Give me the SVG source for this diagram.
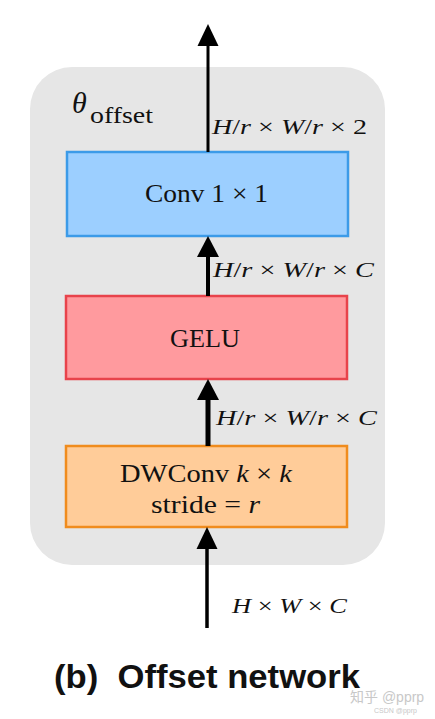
<svg xmlns="http://www.w3.org/2000/svg" width="435" height="719" viewBox="0 0 435 719">
<defs>
<style>
.math{font-family:"Liberation Serif","DejaVu Serif",serif;font-size:21px;fill:#111}
.it{font-style:italic}
.box{font-family:"Liberation Serif","DejaVu Serif",serif;font-size:25px;fill:#111}
.cap{font-family:"Liberation Sans",Arial,sans-serif;font-size:33px;font-weight:bold;fill:#111}
.wm{font-family:"Liberation Sans","Noto Sans CJK SC",sans-serif;fill:#c8c8c8}
.edge{stroke:#000;fill:none}
</style>
</defs>
<rect width="435" height="719" fill="#fff"/>
<g id="container">
<rect x="30" y="67" width="355" height="498" rx="42" ry="42" fill="#e6e6e6"/>
<text x="72" y="113" class="box it" style="font-size:30px">θ</text>
<text x="90" y="123" class="box" style="font-size:23px" textLength="63" lengthAdjust="spacingAndGlyphs">offset</text>
</g>
<g id="node-conv">
<rect x="67" y="152" width="281" height="84" fill="#9ccfff" stroke="#3c9be8" stroke-width="2.5"/>
<text x="145" y="202" class="box" textLength="123" lengthAdjust="spacingAndGlyphs">Conv 1 × 1</text>
</g>
<g id="node-gelu">
<rect x="66" y="296" width="281" height="83" fill="#ff9a9e" stroke="#e8434b" stroke-width="2.5"/>
<text x="170" y="347" class="box" textLength="70" lengthAdjust="spacingAndGlyphs">GELU</text>
</g>
<g id="node-dwconv">
<rect x="66" y="446" width="281" height="81" fill="#ffcc99" stroke="#f08c1e" stroke-width="2.5"/>
<text x="120" y="482" class="box" textLength="172" lengthAdjust="spacingAndGlyphs">DWConv <tspan class="it">k</tspan> × <tspan class="it">k</tspan></text>
<text x="151" y="513" class="box" textLength="109" lengthAdjust="spacingAndGlyphs">stride = <tspan class="it">r</tspan></text>
</g>
<g id="connectors">
<line class="edge" x1="208" y1="152" x2="208" y2="42" stroke-width="3"/>
<polygon points="208,24 197.5,46 218.5,46"/>
<line class="edge" x1="208" y1="296" x2="208" y2="250" stroke-width="4"/>
<polygon points="208,236 197,257 219,257"/>
<line class="edge" x1="208" y1="446" x2="208" y2="395" stroke-width="5"/>
<polygon points="208,379 197,400 219,400"/>
<line class="edge" x1="207" y1="628" x2="207" y2="545" stroke-width="3.5"/>
<polygon points="207,527 196.5,549 217.5,549"/>
</g>
<g id="labels">
<text x="212" y="134" class="math" textLength="155" lengthAdjust="spacingAndGlyphs"><tspan class="it">H</tspan>/<tspan class="it">r</tspan> × <tspan class="it">W</tspan>/<tspan class="it">r</tspan> × 2</text>
<text x="213" y="277" class="math" textLength="161" lengthAdjust="spacingAndGlyphs"><tspan class="it">H</tspan>/<tspan class="it">r</tspan> × <tspan class="it">W</tspan>/<tspan class="it">r</tspan> × <tspan class="it">C</tspan></text>
<text x="216" y="425" class="math" textLength="161" lengthAdjust="spacingAndGlyphs"><tspan class="it">H</tspan>/<tspan class="it">r</tspan> × <tspan class="it">W</tspan>/<tspan class="it">r</tspan> × <tspan class="it">C</tspan></text>
<text x="232" y="613" class="math" textLength="115" lengthAdjust="spacingAndGlyphs"><tspan class="it">H</tspan> × <tspan class="it">W</tspan> × <tspan class="it">C</tspan></text>
</g>
<g id="caption">
<text x="54" y="688" class="cap" textLength="306" lengthAdjust="spacingAndGlyphs" xml:space="preserve">(b)  Offset network</text>
</g>
<g id="watermark">
<text x="350" y="702" class="wm" font-size="14">知乎 @pprp</text>
<text x="374" y="713" class="wm" font-size="7">CSDN @pprp</text>
</g>
</svg>
